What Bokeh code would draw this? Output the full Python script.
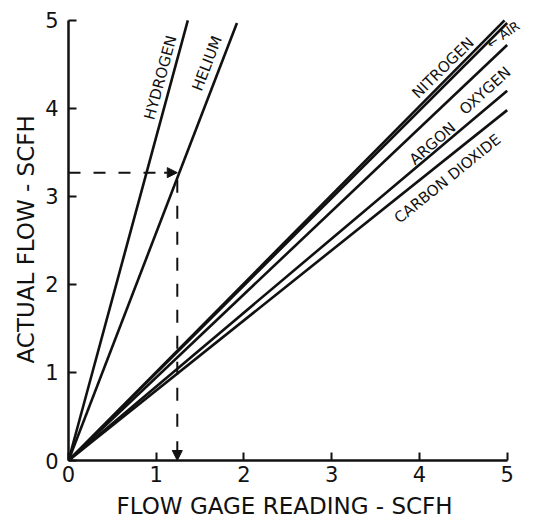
from bokeh.plotting import figure
from bokeh.models import FixedTicker, Arrow, NormalHead, Label, ColumnDataSource, Title
from bokeh.embed import file_html
from bokeh.resources import INLINE
import math

# ---- data ----
gases = ["Hydrogen", "Helium", "Nitrogen", "Air", "Oxygen", "Argon", "Carbon Dioxide"]
gage_end = [1.36, 1.92, 4.97, 5.0, 5.0, 5.0, 5.0]      # flow gage reading at line end (SCFH)
actual_end = [5.0, 4.97, 5.0, 4.97, 4.72, 4.2, 3.98]   # actual flow at line end (SCFH)

tick_values = [0, 1, 2, 3, 4, 5]

example_gage = 1.24     # example reading (dashed construction)
example_actual = 3.27

x_title = "FLOW GAGE READING - SCFH"
y_title = "ACTUAL FLOW - SCFH"

label_text = ["HYDROGEN", "HELIUM", "NITROGEN", "ARGON", "OXYGEN", "CARBON DIOXIDE"]
label_x = [1.05, 1.58, 4.27, 4.15, 4.75, 4.32]
label_y = [4.35, 4.51, 4.46, 3.60, 4.20, 3.20]
label_angle_deg = [74.8, 68.9, 44.5, 41, 42, 39]

FONT = "DejaVu Sans"
INK = "#111111"

p = figure(width=536, height=524, x_range=(0, 5.3), y_range=(0, 5.18),
           output_backend="svg", toolbar_location=None,
           min_border_left=68, min_border_right=3, min_border_top=4, min_border_bottom=64)
p.outline_line_color = None
p.grid.visible = False
p.background_fill_color = "white"
p.border_fill_color = "white"

for ax in (p.xaxis, p.yaxis):
    ax.ticker = FixedTicker(ticks=tick_values)
    ax.bounds = (0, 5)
    ax.major_tick_in = 8
    ax.major_tick_out = 0
    ax.minor_tick_line_color = None
    ax.major_tick_line_width = 2
    ax.major_tick_line_color = INK
    ax.axis_line_width = 2.5
    ax.axis_line_color = INK
    ax.major_label_text_font = FONT
    ax.major_label_text_font_size = "21px"
    ax.major_label_text_color = INK

p.yaxis.major_label_orientation = "horizontal"
p.yaxis.major_label_standoff = 10
p.xaxis.major_label_standoff = 5

p.add_layout(Title(text=x_title, align="left", offset=48, standoff=12, text_font=FONT,
                   text_font_size="23px", text_font_style="normal", text_color=INK), "below")
p.add_layout(Title(text=y_title, align="left", offset=97, standoff=7, text_font=FONT,
                   text_font_size="23px", text_font_style="normal", text_color=INK), "left")

# gas lines from the origin
src = ColumnDataSource(dict(x0=[0] * len(gases), y0=[0] * len(gases), x1=gage_end, y1=actual_end, gas=gases))
p.segment(x0="x0", y0="y0", x1="x1", y1="y1", source=src, line_color=INK, line_width=2.6)

# dashed construction lines
p.line(x=[0, example_gage - 0.05], y=[example_actual, example_actual], line_color=INK,
       line_width=2, line_dash="12 13")
p.line(x=[example_gage, example_gage], y=[example_actual - 0.08, 0.25], line_color=INK,
       line_width=2, line_dash="13 13")

p.add_layout(Arrow(end=NormalHead(size=10, fill_color=INK, line_color=INK),
                   x_start=example_gage - 0.15, y_start=example_actual,
                   x_end=example_gage, y_end=example_actual,
                   line_color=INK, line_width=2))
p.add_layout(Arrow(end=NormalHead(size=10, fill_color=INK, line_color=INK),
                   x_start=example_gage, y_start=0.22,
                   x_end=example_gage, y_end=0.0,
                   line_color=INK, line_width=2))

# line labels
for t, x, y, a in zip(label_text, label_x, label_y, label_angle_deg):
    p.add_layout(Label(x=x, y=y, text=t, angle=math.radians(a), text_align="center",
                       text_baseline="middle", text_font=FONT, text_font_size="15px",
                       text_color=INK))

p.add_layout(Label(x=4.78, y=4.72, text="\u2190 AIR", angle=math.radians(34), text_align="left",
                   text_baseline="middle", text_font=FONT, text_font_size="13px",
                   text_color=INK))

open("out.html", "w").write(file_html(p, INLINE))
